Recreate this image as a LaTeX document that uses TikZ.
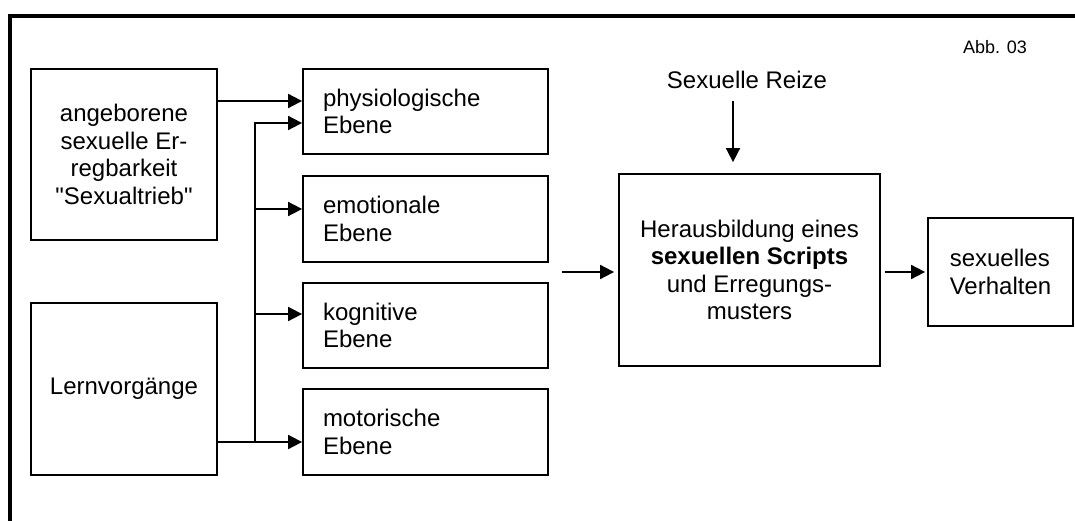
\documentclass[tikz,border=0pt]{standalone}
\usepackage{fontspec}
\setmainfont{Liberation Sans}[Ligatures=TeXOff]
\usetikzlibrary{arrows.meta,calc}
\begin{document}
\begin{tikzpicture}[x=1pt,y=-1pt,
  lw/.style={line width=1.8pt},
  box/.style={draw, lw, inner sep=0pt, font=\fontsize{24}{27.6}\selectfont},
  lvl/.style={box, minimum width=245pt, minimum height=85pt, text width=205pt, align=left, inner xsep=20pt},
  arr/.style={lw, -{Triangle[length=14pt,width=14pt]}},
  txt/.style={font=\fontsize{24}{27.6}\selectfont, inner sep=0pt}]
\useasboundingbox (0,0) rectangle (1075,521);
\draw[line width=4pt, line join=miter] (1080,16) -- (10,16) -- (10,525);
% nodes
\node[box, minimum width=186pt, minimum height=171pt, align=center] (A) at (124,154.5) {angeborene\\sexuelle Er-\\regbarkeit\\"Sexualtrieb"};
\node[box, minimum width=186pt, minimum height=172pt] (L) at (124,389) {Lernvorgänge};
\node[lvl] (P) at (425.5,111.5) {physiologische\\Ebene};
\node[lvl, minimum height=86pt] (E) at (425.5,219) {emotionale\\Ebene};
\node[lvl] (K) at (425.5,325.5) {kognitive\\Ebene};
\node[lvl, minimum height=86pt] (M) at (425.5,432) {motorische\\Ebene};
\node[box, minimum width=261pt, minimum height=192pt, align=center] (C) at (749.5,270) {Herausbildung eines\\\textbf{sexuellen Scripts}\\und Erregungs-\\musters};
\node[box, minimum width=145pt, minimum height=108pt, align=left] (V) at (1000.5,272) {sexuelles\\Verhalten};
\node[txt, anchor=base] (S) at (747,89) {Sexuelle Reize};
\node[font=\fontsize{18}{21}\selectfont, inner sep=0pt, anchor=base] (abb) at (995,54) {Abb. 03};
% helper coordinates
\coordinate (jx) at (255,0);
\coordinate (p1) at ([yshift=10.5pt]P.west);
\coordinate (p2) at ([yshift=-11.5pt]P.west);
\coordinate (e1) at ([yshift=10pt]E.west);
\coordinate (k1) at ([yshift=11.5pt]K.west);
\coordinate (m1) at ([yshift=-10pt]M.west);
\coordinate (cin) at (562,272);
\coordinate (s1) at (733,101);
% connectors
\draw[arr] (A.east |- p1) -- (p1);
\draw[arr] (L.east |- m1) -- (m1);
\draw[arr] (jx |- m1) |- (p2);
\draw[arr] (jx |- e1) -- (e1);
\draw[arr] (jx |- k1) -- (k1);
\draw[arr, shorten >=4pt] (cin) -- (cin -| C.west);
\draw[arr, shorten <=4pt, shorten >=2pt] (C.east |- V.west) -- (V.west);
\draw[arr, shorten >=11pt] (s1) -- (s1 |- C.north);
\end{tikzpicture}
\end{document}
